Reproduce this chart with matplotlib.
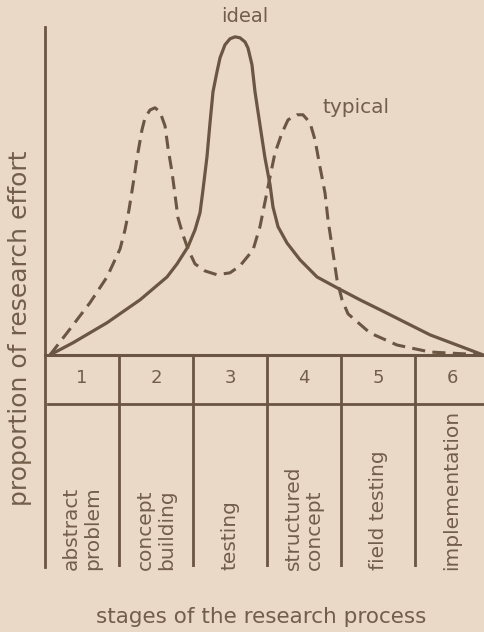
import matplotlib
matplotlib.use("Agg")
import matplotlib.pyplot as plt

# ---- data ----
stage_numbers = ["1", "2", "3", "4", "5", "6"]
stage_names = ["abstract\nproblem", "concept\nbuilding", "testing",
               "structured\nconcept", "field testing", "implementation"]

# ideal curve (x in stage units, y in % of the ideal peak)
ideal_x = [0.068, 0.378, 0.838, 1.284, 1.649, 1.784, 1.932, 2.027, 2.095, 2.135,
           2.189, 2.230, 2.270, 2.324, 2.365, 2.432, 2.500, 2.568, 2.635, 2.703,
           2.743, 2.797, 2.838, 2.905, 2.973, 3.041, 3.081, 3.149, 3.270, 3.446,
           3.676, 3.946, 4.257, 4.527, 5.203, 5.919]
ideal_y = [0.0, 3.8, 10.1, 17.3, 24.5, 28.6, 34.0, 39.3, 44.7, 51.9,
           62.3, 73.0, 82.7, 89.0, 93.4, 97.5, 99.4, 100.0, 99.7, 98.4,
           96.5, 91.2, 82.7, 72.3, 61.9, 53.5, 46.5, 40.3, 35.2, 29.9,
           24.5, 21.1, 17.3, 14.2, 6.3, 0.0]

# typical curve
typical_x = [0.068, 0.297, 0.608, 0.838, 1.014, 1.081, 1.135, 1.189, 1.243, 1.311,
             1.351, 1.419, 1.486, 1.554, 1.622, 1.662, 1.716, 1.757, 1.797, 1.865,
             1.932, 2.027, 2.162, 2.324, 2.500, 2.635, 2.811, 2.905, 2.973, 3.041,
             3.108, 3.203, 3.284, 3.405, 3.486, 3.581, 3.649, 3.716, 3.784, 3.824,
             3.892, 3.946, 4.014, 4.095, 4.392, 4.757, 5.203, 5.919]
typical_y = [0.0, 6.9, 16.4, 24.5, 33.3, 39.3, 45.6, 53.5, 61.9, 70.8,
             74.5, 77.0, 77.7, 76.4, 72.0, 65.1, 57.5, 50.3, 43.1, 37.7,
             33.3, 28.6, 26.4, 25.2, 25.8, 28.0, 33.0, 40.3, 48.1, 56.0,
             63.5, 69.8, 73.9, 75.5, 75.5, 73.0, 67.6, 59.1, 50.9, 42.5,
             32.1, 23.6, 17.3, 12.9, 6.9, 3.1, 0.9, 0.0]

# ---- style ----
BG = "#EAD9C6"
INK = "#6B5543"
TXT = "#725E4B"
plt.rcParams["font.family"] = ["DejaVu Sans"]

W, H = 484, 632
fig = plt.figure(figsize=(W / 100, H / 100), dpi=100, facecolor=BG)
ax = fig.add_axes([45 / W, (H - 567) / H, (W - 45) / W, (567 - 27) / H])
ax.set_facecolor(BG)
ax.set_xlim(0, 439 / 74)
ax.set_ylim(-66.7, 103.1)
for s in ["top", "right", "bottom"]:
    ax.spines[s].set_visible(False)
ax.spines["left"].set_color(INK)
ax.spines["left"].set_linewidth(2.0)
ax.set_xticks([])
ax.set_yticks([])

n = len(stage_numbers)
# table
ax.axhline(0, color=INK, lw=2.2, clip_on=False)
ax.axhline(-15.4, xmin=0.006, color=INK, lw=2.0)
ax.vlines(range(1, n), -66.7, 0, color=INK, lw=2.0)

for i, (num, name) in enumerate(zip(stage_numbers, stage_names)):
    ax.text(i + 0.5, -7.2, num, ha="center", va="center", fontsize=13, color=TXT)
    ax.text(i + 0.5, -67.6, name, rotation=90, ha="center", va="bottom",
            multialignment="left", fontsize=14.5, color=TXT, clip_on=False,
            linespacing=1.15)

# curves
ax.plot(ideal_x, ideal_y, color=INK, lw=2.3, solid_capstyle="round",
        solid_joinstyle="round")
ax.plot(typical_x, typical_y, color=INK, lw=2.2, dashes=(4.3, 2.4),
        dash_joinstyle="round")

ax.text(2.70, 106.3, "ideal", ha="center", va="center", fontsize=14,
        color=TXT, clip_on=False)
ax.text(4.20, 77.7, "typical", ha="center", va="center", fontsize=14.5,
        color=TXT)

fig.text(261 / W, 1 - 617 / H, "stages of the research process",
         ha="center", va="center", fontsize=15.5, color=TXT)
fig.text(20 / W, 1 - 328 / H, "proportion of research effort", rotation=90,
         ha="center", va="center", fontsize=18, color=TXT)

fig.savefig("out.png", dpi=100, facecolor=BG)
